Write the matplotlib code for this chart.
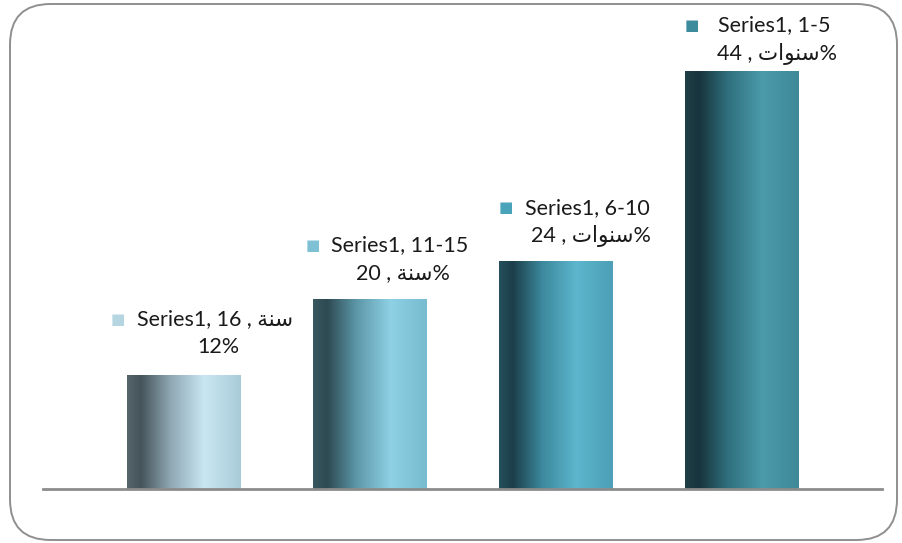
import numpy as np
import matplotlib
matplotlib.use("Agg")
import matplotlib.pyplot as plt
from matplotlib.colors import LinearSegmentedColormap
from matplotlib.patches import FancyBboxPatch

# data (left to right as drawn)
categories = ["16", "11-15", "6-10", "1-5"]
values = [12, 20, 24, 44]
# Arabic words already in visual (shaped, reversed) order: سنة / سنوات
SANA = "\uFE94\uFEE8\uFEB3"
SANAWAT = "\uFE95\uFE8D\uFEEE\uFEE8\uFEB3"
units = [SANA, SANA, SANAWAT, SANAWAT]
series_name = "Series1"

# gradient colours per bar: left edge, darkest, middle, lightest, right edge
grads = [
    ["#56656b", "#45535a", "#8ea7b2", "#c9e7f3", "#a9cbd8"],
    ["#3a5860", "#2d4951", "#5c97a7", "#8ed0e4", "#78bcd0"],
    ["#24505c", "#1c3e49", "#3c899d", "#5cb6cd", "#4c9fb6"],
    ["#1f4048", "#18333b", "#30707e", "#4b9bab", "#3f8898"],
]
marker_cols = ["#b5d5e1", "#7ec0d4", "#49a3b9", "#3b8b9c"]

# label layout offsets in pixels relative to bar centre / bar top
mk_dx = [-66, -56.5, -49.5, -49.5]
t1_dx = [-46.5, -38.5, -30.5, -23.5]
t1_dy = [56, 54, 53, 46]
t2_dx = [35, 33, 35.5, 35]
t2_dy = [28, 26, 25, 17]

W, H = 902, 543
fig = plt.figure(figsize=(W / 100, H / 100), dpi=100)

# rounded frame
frame = FancyBboxPatch((10 / W, 3 / H), 887 / W, 536 / H,
                       boxstyle="round,pad=0,rounding_size=0.045",
                       transform=fig.transFigure, fill=False,
                       edgecolor="#8f8f8f", linewidth=1.4, mutation_aspect=W / H)
fig.patches.append(frame)

ax = fig.add_axes([43 / W, (H - 489) / H, (882 - 43) / W, 484 / H])
for s in ["top", "right", "left"]:
    ax.spines[s].set_visible(False)
ax.spines["bottom"].set_color("#8c8c8c")
ax.spines["bottom"].set_linewidth(2)
ax.set_xticks([])
ax.set_yticks([])
ax.patch.set_alpha(0)

x = np.arange(len(values))
bars = ax.bar(x, values, width=0.61, color="none", edgecolor="none")

grad_pos = [0.0, 0.12, 0.38, 0.68, 1.0]
ramp = np.linspace(0, 1, 256).reshape(1, -1)
for i, b in enumerate(bars):
    cmap = LinearSegmentedColormap.from_list("g%d" % i, list(zip(grad_pos, grads[i])))
    x0, y0 = b.get_x(), b.get_y()
    ax.imshow(ramp, cmap=cmap, aspect="auto", interpolation="bilinear",
              extent=[x0, x0 + b.get_width(), y0, y0 + b.get_height()], zorder=2)

ax.set_xlim(-0.755, 3.755)
ax.set_ylim(0, 484 / 9.5)

fam = ["Lato", "DejaVu Sans"]
px = 0.72
for i, b in enumerate(bars):
    cx = b.get_x() + b.get_width() / 2
    top = b.get_height()
    if i == 0:
        l1 = f"{series_name}, {categories[i]} , {units[i]}"
        l2 = f"{values[i]}%"
    else:
        l1 = f"{series_name}, {categories[i]}"
        l2 = f"{values[i]} , {units[i]}%"
    ax.annotate("\u25A0", (cx, top), xytext=(mk_dx[i] * px, t1_dy[i] * px),
                textcoords="offset points", ha="center", va="center",
                fontsize=11, color=marker_cols[i], family="DejaVu Sans")
    ax.annotate(l1, (cx, top), xytext=(t1_dx[i] * px, t1_dy[i] * px),
                textcoords="offset points", ha="left", va="center",
                fontsize=15.5, color="#1a1a1a", family=fam)
    ax.annotate(l2, (cx, top), xytext=(t2_dx[i] * px, t2_dy[i] * px),
                textcoords="offset points", ha="center", va="center",
                fontsize=15.5, color="#1a1a1a", family=fam)

fig.savefig("out.png", dpi=100)
